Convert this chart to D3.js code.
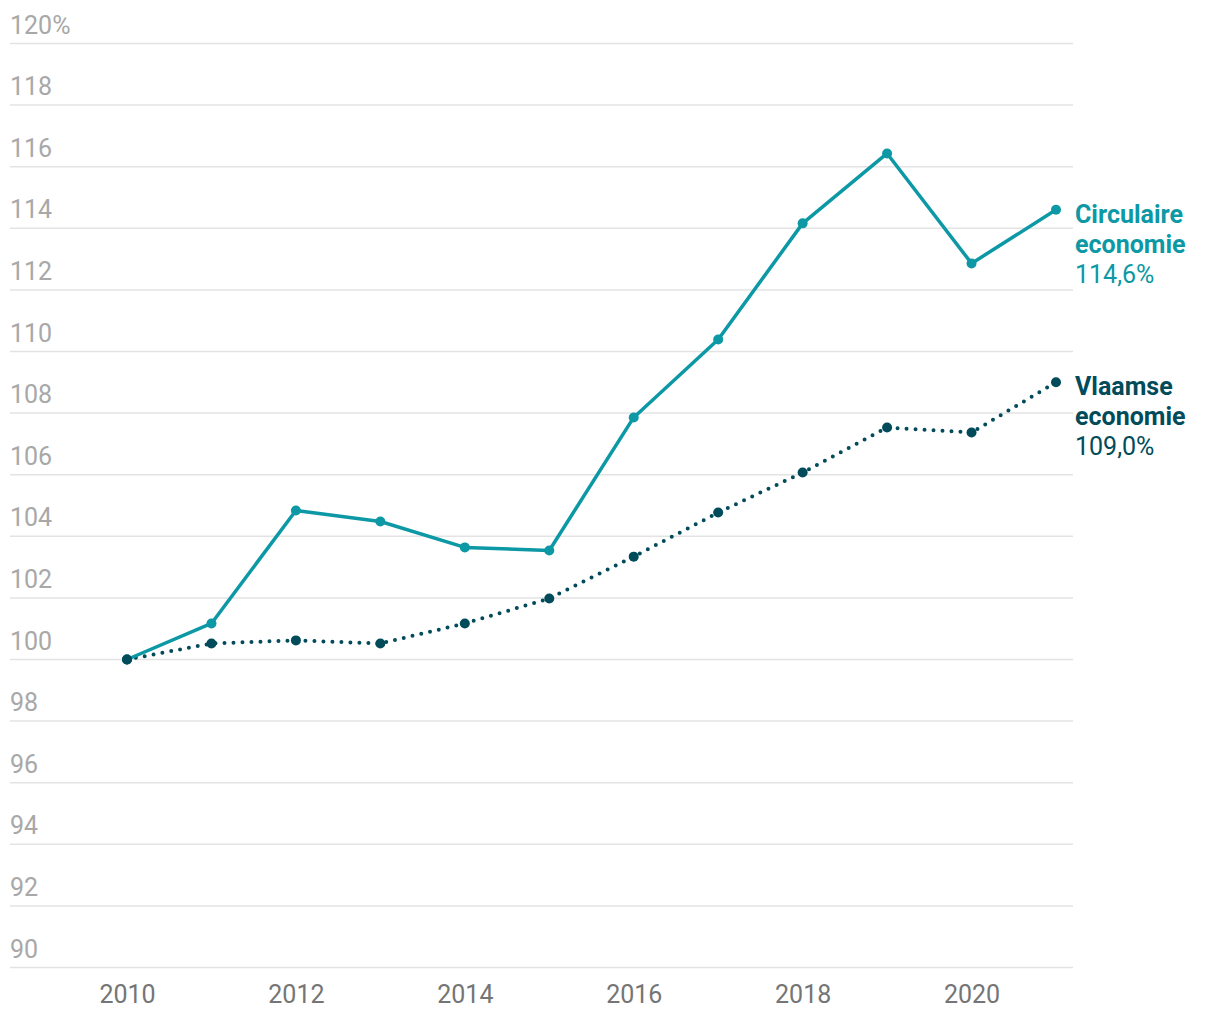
<!DOCTYPE html>
<html><head><meta charset="utf-8">
<script src="https://cdn.jsdelivr.net/npm/d3@7"></script>
<style>body{margin:0;background:#fff;font-family:Roboto,sans-serif}</style>
</head><body><svg id="c" width="1220" height="1020"></svg>
<script>
const years = [2010,2011,2012,2013,2014,2015,2016,2017,2018,2019,2020,2021];
const circulaire = [100,101.17,104.84,104.48,103.64,103.54,107.86,110.39,114.16,116.43,112.86,114.6];
const vlaamse = [100,100.52,100.62,100.52,101.17,101.98,103.34,104.77,106.07,107.53,107.37,109.0];
const yTicks = [90,92,94,96,98,100,102,104,106,108,110,112,114,116,118,120];
const xTicks = [2010,2012,2014,2016,2018,2020];
const labelCirc = ["Circulaire","economie","114,6%"];
const labelVlaams = ["Vlaamse","economie","109,0%"];
const cTeal = "#0c98a5", cDark = "#024b5a";

const svg = d3.select("#c");
const x = d3.scaleLinear().domain([2010,2021]).range([127,1056]);
const y = d3.scaleLinear().domain([90,120]).range([967.5,43.5]);

const grid = svg.append("g");
grid.selectAll("line").data(yTicks).join("line")
  .attr("x1",10).attr("x2",1073).attr("y1",d=>y(d)).attr("y2",d=>y(d))
  .attr("stroke","#e3e3e3").attr("stroke-width",1.5);
grid.selectAll("text").data(yTicks).join("text")
  .attr("x",10).attr("y",d=>y(d)-10)
  .attr("fill","#a8a8a8").attr("font-size",25)
  .text(d=>d===120?"120%":d);

const xa = svg.append("g").attr("transform","translate(0,968)")
  .call(d3.axisBottom(x).tickValues(xTicks).tickFormat(d3.format("d")).tickSize(0).tickPadding(17.5));
xa.select(".domain").remove();
xa.selectAll("text").attr("fill","#757575").attr("font-size",25).attr("font-family","Roboto,sans-serif");

const line = d3.line().x((d,i)=>x(years[i])).y(d=>y(d));

svg.append("path").datum(vlaamse).attr("d",line).attr("fill","none")
  .attr("stroke",cDark).attr("stroke-width",4).attr("stroke-linecap","round")
  .attr("stroke-dasharray","0 9");
svg.append("g").selectAll("circle").data(vlaamse).join("circle")
  .attr("cx",(d,i)=>x(years[i])).attr("cy",d=>y(d)).attr("r",5).attr("fill",cDark);

svg.append("path").datum(circulaire).attr("d",line).attr("fill","none")
  .attr("stroke",cTeal).attr("stroke-width",3.5).attr("stroke-linejoin","round");
svg.append("g").selectAll("circle").data(circulaire).join("circle")
  .attr("cx",(d,i)=>x(years[i])).attr("cy",d=>y(d)).attr("r",5).attr("fill",cTeal);

svg.append("circle").attr("cx",x(years[0])).attr("cy",y(vlaamse[0])).attr("r",5).attr("fill",cDark);

function label(lines,val,color){
  const t = svg.append("text").attr("x",1075).attr("y",y(val)+13).attr("fill",color).attr("font-size",25);
  lines.forEach((s,i)=>{
    t.append("tspan").attr("x",1075).attr("dy",i===0?0:30)
      .attr("font-weight",i<2?"bold":"normal").text(s);
  });
}
label(labelCirc,circulaire[11],cTeal);
label(labelVlaams,vlaamse[11],cDark);
</script></body></html>
